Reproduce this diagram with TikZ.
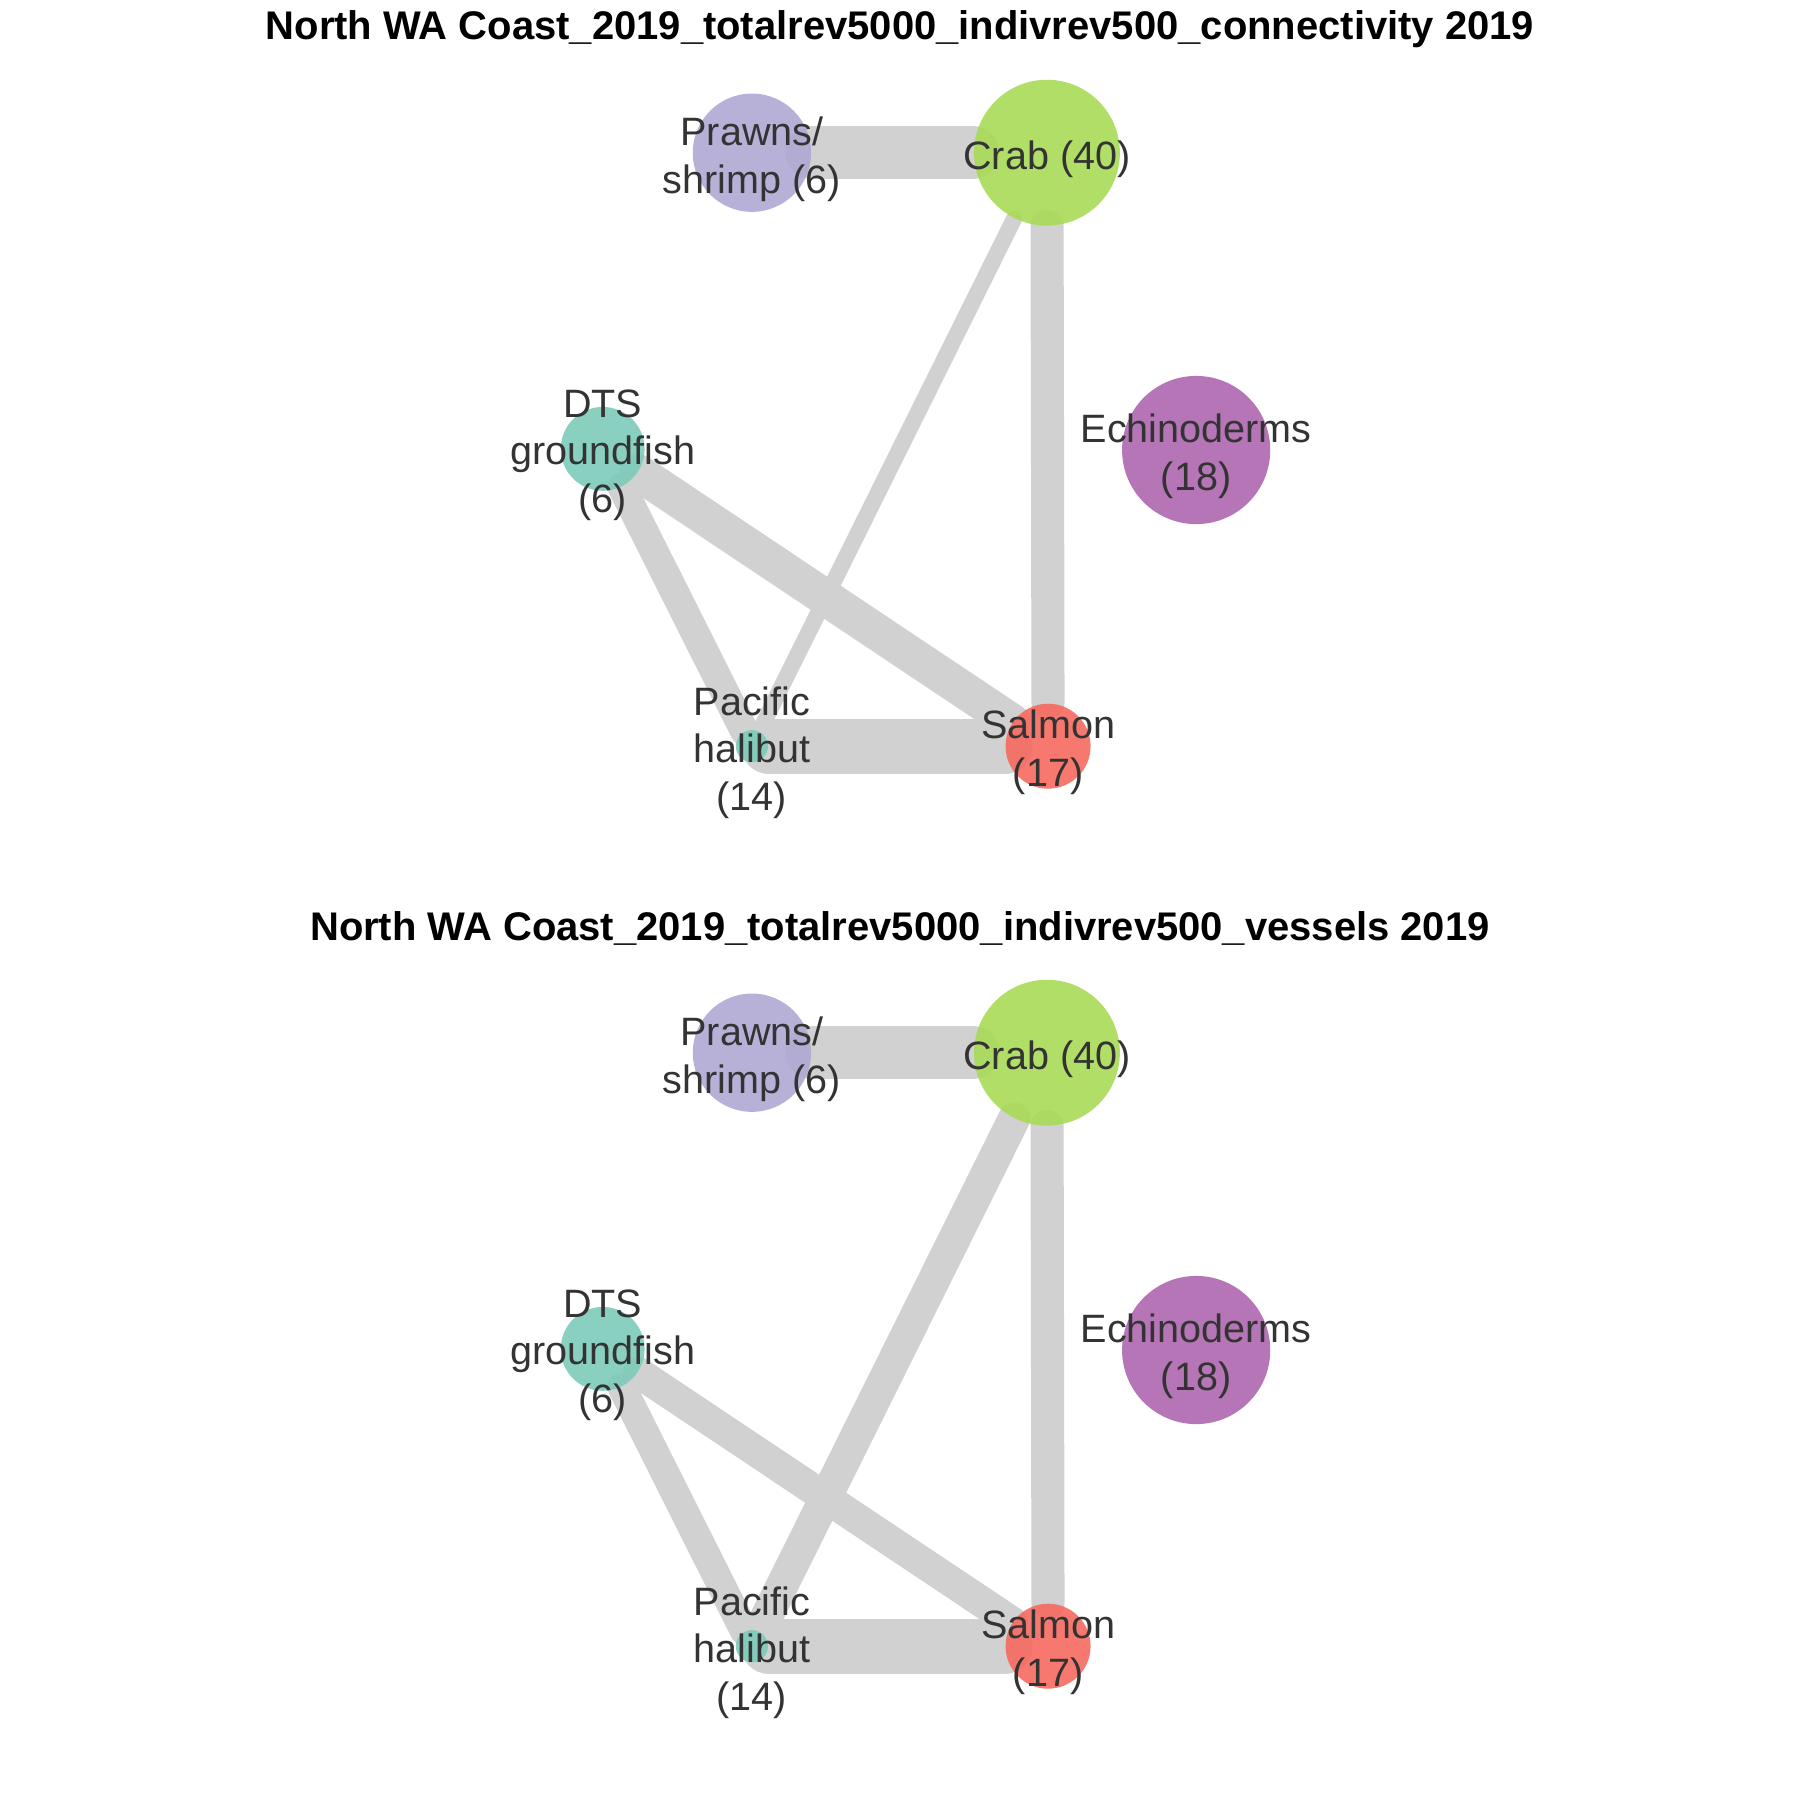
\documentclass[tikz,border=0pt]{standalone}
\usepackage{fontspec}
\setmainfont{Liberation Sans}
\usetikzlibrary{backgrounds}

\definecolor{edgegray}{RGB}{209,209,209}
\definecolor{labelgray}{RGB}{51,51,51}
\definecolor{crabgreen}{RGB}{167,218,87}
\definecolor{prawnlilac}{RGB}{175,169,212}
\definecolor{echinoviolet}{RGB}{173,102,174}
\definecolor{groundteal}{RGB}{124,203,185}
\definecolor{salmonred}{RGB}{246,105,94}

\tikzset{
    species/.style={circle, inner sep=0pt, draw=none, fill opacity=0.9, text opacity=1},
    tag/.style={align=center, text=labelgray, yshift=-0.055cm, font=\fontsize{9.8}{11.8}\selectfont},
    heading/.style={font=\bfseries\fontsize{9.9}{11.8}\selectfont},
    link/.style={draw=edgegray, line cap=round},
}

\begin{document}
\begin{tikzpicture}[x=0.01cm, y=-0.01cm]
    \useasboundingbox (0,0) rectangle (1568,1568);

    % connectivity
    \node[heading] (titleA) at (784,25) {North WA Coast\_2019\_totalrev5000\_indivrev500\_connectivity 2019};
    \node[species, fill=prawnlilac, minimum size=1.03cm, label={[tag]center:Prawns/\\shrimp (6)}] (prawnsA) at (655,133) {};
    \node[species, fill=crabgreen, minimum size=1.27cm, label={[tag]center:Crab (40)}] (crabA) at (912,133) {};
    \node[species, fill=groundteal, minimum size=0.73cm, label={[tag]center:DTS\\groundfish\\(6)}] (dtsA) at (525,391) {};
    \node[species, fill=echinoviolet, minimum size=1.29cm, label={[tag]center:Echinoderms\\(18)}] (echinoA) at (1042,392) {};
    \node[species, fill=groundteal, minimum size=0.28cm, label={[tag]center:Pacific\\halibut\\(14)}] (halibutA) at (655,650) {};
    \node[species, fill=salmonred, minimum size=0.74cm, label={[tag]center:Salmon\\(17)}] (salmonA) at (913,650) {};

    \begin{scope}[on background layer]
    \draw[link]
        (prawnsA) edge[line width=13.1pt] (crabA)
        (crabA) edge[line width=8.2pt] (salmonA)
        (crabA) edge[line width=4pt] (halibutA)
        (dtsA) edge[line width=9.1pt] (salmonA)
        (dtsA) edge[line width=7.1pt] (halibutA)
        (halibutA) edge[line width=13.7pt] (salmonA);
    \end{scope}

    % vessels
    \node[heading] (titleB) at (784,809) {North WA Coast\_2019\_totalrev5000\_indivrev500\_vessels 2019};
    \node[species, fill=prawnlilac, minimum size=1.03cm, label={[tag]center:Prawns/\\shrimp (6)}] (prawnsB) at (655,917) {};
    \node[species, fill=crabgreen, minimum size=1.27cm, label={[tag]center:Crab (40)}] (crabB) at (912,917) {};
    \node[species, fill=groundteal, minimum size=0.73cm, label={[tag]center:DTS\\groundfish\\(6)}] (dtsB) at (525,1175) {};
    \node[species, fill=echinoviolet, minimum size=1.29cm, label={[tag]center:Echinoderms\\(18)}] (echinoB) at (1042,1176) {};
    \node[species, fill=groundteal, minimum size=0.28cm, label={[tag]center:Pacific\\halibut\\(14)}] (halibutB) at (655,1434) {};
    \node[species, fill=salmonred, minimum size=0.74cm, label={[tag]center:Salmon\\(17)}] (salmonB) at (913,1434) {};

    \begin{scope}[on background layer]
    \draw[link]
        (prawnsB) edge[line width=13.1pt] (crabB)
        (crabB) edge[line width=8.2pt] (salmonB)
        (crabB) edge[line width=8pt] (halibutB)
        (dtsB) edge[line width=7.7pt] (salmonB)
        (dtsB) edge[line width=7.1pt] (halibutB)
        (halibutB) edge[line width=13.7pt] (salmonB);
    \end{scope}
\end{tikzpicture}
\end{document}
